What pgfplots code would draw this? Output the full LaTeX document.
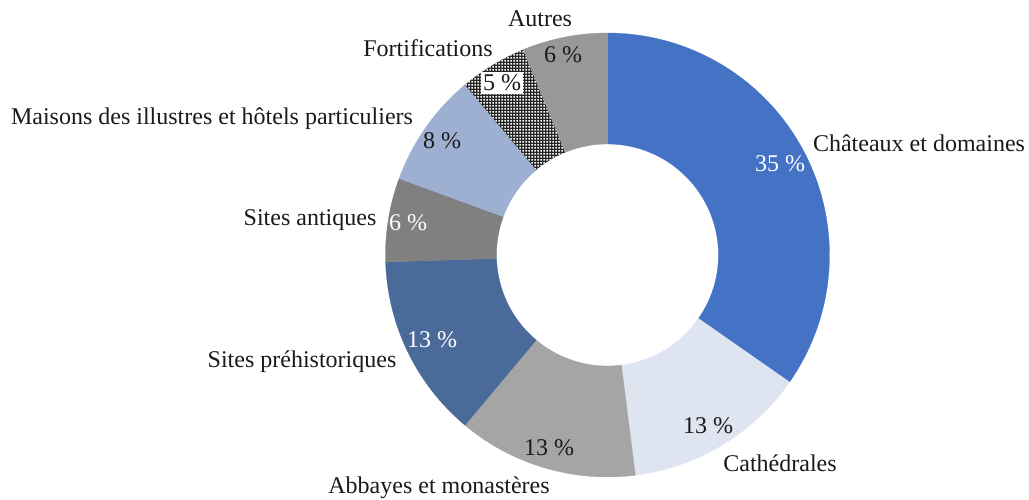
\documentclass[border=0pt]{standalone}
\usepackage{fontspec}
\setmainfont{Liberation Serif}
\usepackage{pgfplots}
\pgfplotsset{compat=1.18}
\usetikzlibrary{patterns}
\definecolor{cChat}{HTML}{4472C4}
\definecolor{cCath}{HTML}{DEE4F0}
\definecolor{cAbb}{HTML}{A5A5A5}
\definecolor{cPre}{HTML}{4A6A9A}
\definecolor{cAnt}{HTML}{808080}
\definecolor{cMais}{HTML}{9DB0D2}
\definecolor{cAut}{HTML}{989898}
\definecolor{txt}{HTML}{1A1A1A}
\pgfdeclarepatternformonly{whitedots}{\pgfpointorigin}{\pgfqpoint{3pt}{3pt}}{\pgfqpoint{3pt}{3pt}}{%
  \pgfpathrectangle{\pgfqpoint{0.65pt}{0.65pt}}{\pgfqpoint{1.7pt}{1.7pt}}%
  \pgfusepath{fill}}
% shares in percent, clockwise from 12 o'clock
\def\vChat{34.7}
\def\vCath{13.3}
\def\vAbb{13.1}
\def\vPre{13.4}
\def\vAnt{6.1}
\def\vMais{8.3}
\def\vFort{4.9}
\def\vAut{6.2}
\pgfmathsetmacro\aA{0}
\pgfmathsetmacro\aB{\aA+3.6*\vChat}
\pgfmathsetmacro\aC{\aB+3.6*\vCath}
\pgfmathsetmacro\aD{\aC+3.6*\vAbb}
\pgfmathsetmacro\aE{\aD+3.6*\vPre}
\pgfmathsetmacro\aF{\aE+3.6*\vAnt}
\pgfmathsetmacro\aG{\aF+3.6*\vMais}
\pgfmathsetmacro\aH{\aG+3.6*\vFort}
\pgfmathsetmacro\aI{\aH+3.6*\vAut}
\def\cx{607.5}
\def\cy{242}
\def\Ro{222}
\def\Ri{111}
\newcommand\slice[3]{%
  \addplot[#3, samples at={0,...,121}, variable=\t]
   ({\cx + ((\t<60.5) ? \Ro : \Ri)*sin((\t<60.5) ? (#1+(#2-#1)*\t/60) : (#2-(#2-#1)*(\t-61)/60))},
    {\cy + ((\t<60.5) ? \Ro : \Ri)*cos((\t<60.5) ? (#1+(#2-#1)*\t/60) : (#2-(#2-#1)*(\t-61)/60))}) -- cycle;
}
\tikzset{lab/.style={font=\fontsize{24}{28}\selectfont, text=txt, inner sep=0pt, anchor=base}}
\begin{document}
\begin{tikzpicture}
\begin{axis}[
  scale only axis, width=1029pt, height=497pt,
  xmin=0, xmax=1029, ymin=0, ymax=497,
  hide axis, clip=false,
]
\path (axis cs:0,0) rectangle (axis cs:1029,497);
\slice{\aA}{\aB}{fill=cChat, draw=cChat, line width=0.3pt}
\slice{\aB}{\aC}{fill=cCath, draw=cCath, line width=0.3pt}
\slice{\aC}{\aD}{fill=cAbb, draw=cAbb, line width=0.3pt}
\slice{\aD}{\aE}{fill=cPre, draw=cPre, line width=0.3pt}
\slice{\aE}{\aF}{fill=cAnt, draw=cAnt, line width=0.3pt}
\slice{\aF}{\aG}{fill=cMais, draw=cMais, line width=0.3pt}
\slice{\aG}{\aH}{fill=black!85, draw=none}
\slice{\aG}{\aH}{draw=none, pattern=whitedots, pattern color=white}
\slice{\aH}{\aI}{fill=cAut, draw=cAut, line width=0.3pt}
% category labels
\node[lab] at (axis cs:540,470) {Autres};
\node[lab] at (axis cs:428,440) {Fortifications};
\node[lab] at (axis cs:212,372) {Maisons des illustres et hôtels particuliers};
\node[lab] at (axis cs:310,271) {Sites antiques};
\node[lab] at (axis cs:302,129) {Sites préhistoriques};
\node[lab] at (axis cs:439,3) {Abbayes et monastères};
\node[lab] at (axis cs:780,25) {Cathédrales};
\node[lab] at (axis cs:919,345) {Châteaux et domaines};
% value labels
\node[lab, text=white] at (axis cs:780,325) {35 \%};
\node[lab] at (axis cs:708,63) {13 \%};
\node[lab] at (axis cs:549,41) {13 \%};
\node[lab, text=white] at (axis cs:432,149) {13 \%};
\node[lab, text=white] at (axis cs:408,266) {6 \%};
\node[lab] at (axis cs:442,348) {8 \%};
\node[lab, fill=white, inner xsep=2pt, inner ysep=3pt] at (axis cs:502,406) {5 \%};
\node[lab] at (axis cs:563,434) {6 \%};
\end{axis}
\end{tikzpicture}
\end{document}
